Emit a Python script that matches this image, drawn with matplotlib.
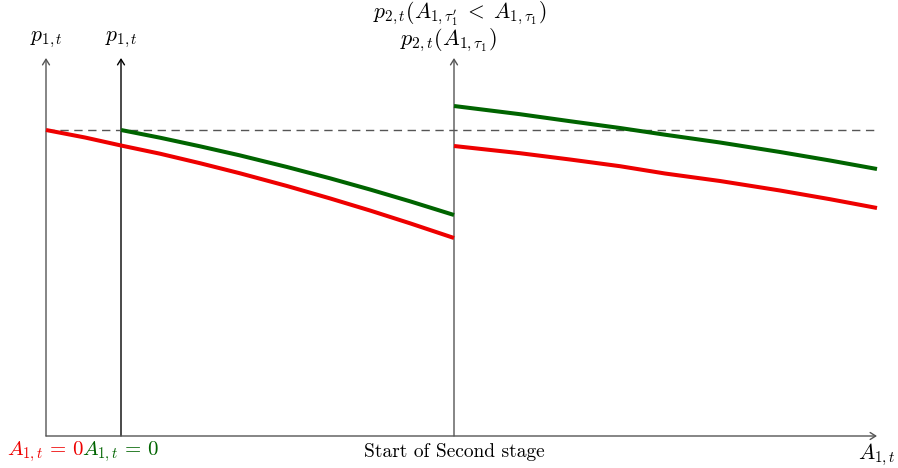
import matplotlib
matplotlib.use("Agg")
import matplotlib.pyplot as plt
from matplotlib.patches import FancyArrowPatch

plt.rcParams['mathtext.fontset'] = 'cm'
plt.rcParams['font.family'] = ['cmr10', 'DejaVu Serif']

# ---- data (arbitrary chart units: x 0..831, y 0..378) ----
axis_x = [0, 75, 408]          # positions of the vertical axes
x_end = 831
y_top = 378
threshold = 306                # dashed reference level

red1_x = [0, 39, 75, 114, 154, 194, 241, 284, 324, 364, 408]
red1_y = [306, 298.5, 290.5, 282.3, 272.8, 262.7, 250, 237.6, 225.5, 212.7, 198]
green1_x = [75, 114, 154, 194, 241, 284, 324, 364, 408]
green1_y = [306, 298.3, 289.7, 280.6, 269, 257.7, 246.5, 234.7, 221]
red2_x = [408, 474, 524, 574, 619, 674, 734, 784, 831]
red2_y = [290, 282.8, 276.5, 269.8, 262.5, 255, 245.5, 236.8, 228]
green2_x = [408, 474, 524, 574, 619, 674, 734, 784, 831]
green2_y = [330, 321.8, 314.8, 308, 301.3, 293.5, 284, 275.5, 267]

RED = '#ee0000'
GREEN = '#006400'
GRAY = '#555555'

fig = plt.figure(figsize=(8.98, 4.68), dpi=100)
ax = fig.add_axes([0, 0, 1, 1])
ax.set_xlim(-46, 898 - 46)
ax.set_ylim(-(468 - 436), 436)
ax.axis('off')


def arrow(x0, y0, x1, y1, color):
    a = FancyArrowPatch((x0, y0), (x1, y1), arrowstyle='->,head_length=4,head_width=2.5',
                        color=color, lw=1.0, shrinkA=0, shrinkB=0, mutation_scale=1)
    ax.add_patch(a)


arrow(axis_x[0], 0, axis_x[0], y_top, GRAY)
arrow(axis_x[1], 0, axis_x[1], y_top, 'black')
arrow(axis_x[2], 0, axis_x[2], y_top, GRAY)
arrow(axis_x[0], 0, x_end, 0, GRAY)

ax.plot([axis_x[0], x_end], [threshold, threshold], color=GRAY, lw=1.0,
        dashes=(6, 4), zorder=1)

lw = 2.9
for xs, ys, c in [(red1_x, red1_y, RED), (green1_x, green1_y, GREEN),
                  (red2_x, red2_y, RED), (green2_x, green2_y, GREEN)]:
    ax.plot(xs, ys, color=c, lw=lw, solid_capstyle='butt',
            solid_joinstyle='round', zorder=3)

fs_t = 14


def y_of(py):
    return 436 - py


def x_of(px):
    return px - 46


ax.text(axis_x[0], y_of(40), r'$p_{1,t}$', ha='center', va='center', fontsize=15.5)
ax.text(axis_x[1], y_of(40), r'$p_{1,t}$', ha='center', va='center', fontsize=15.5)
ax.text(x_of(460), y_of(14), r"$p_{2,t}(A_{1,\tau_1'}\;<\;A_{1,\tau_1})$", ha='center',
        va='center', fontsize=15.5)
ax.text(x_of(449), y_of(40), r'$p_{2,t}(A_{1,\tau_1})$', ha='center', va='center', fontsize=16)
ax.text(axis_x[0], y_of(452), r'$A_{1,t}\,=\,0$', ha='center', va='center', fontsize=15, color=RED)
ax.text(axis_x[1], y_of(452), r'$A_{1,t}\,=\,0$', ha='center', va='center', fontsize=15, color=GREEN)
ax.text(axis_x[2], y_of(452), 'Start of Second stage', ha='center', va='center', fontsize=fs_t)
ax.text(x_of(877), y_of(455), r'$A_{1,t}$', ha='center', va='center', fontsize=15.5)

fig.savefig('out.png', dpi=100)
